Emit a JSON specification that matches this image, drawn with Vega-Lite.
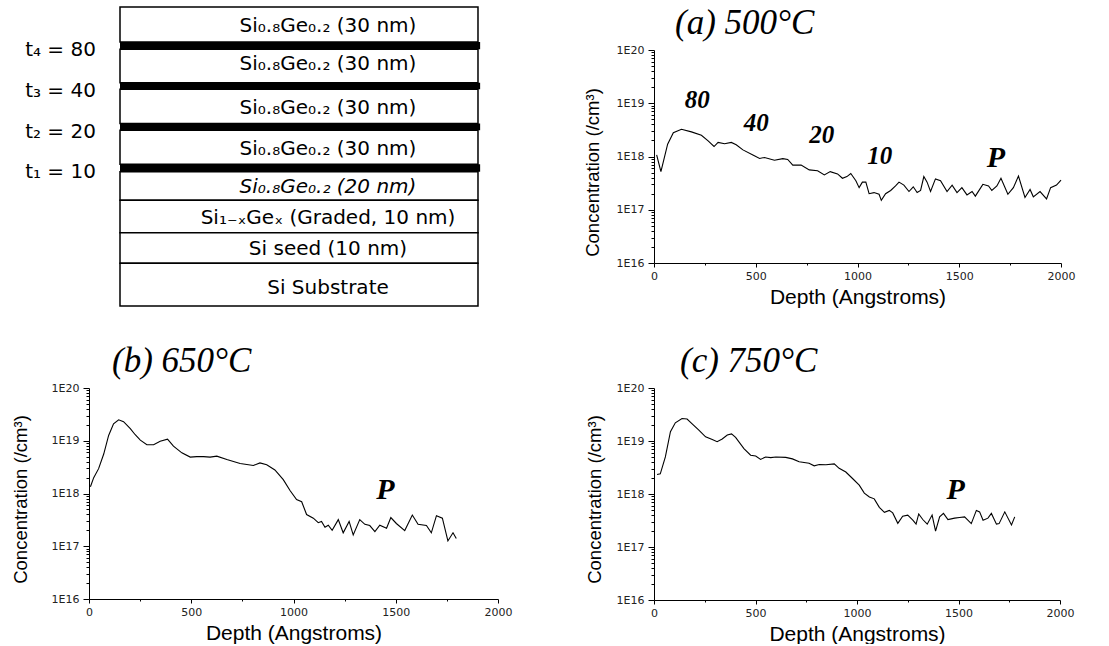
{
 "$schema": "https://vega.github.io/schema/vega-lite/v6.json",
 "background": "white",
 "padding": {"left": 11, "top": 5, "right": 5, "bottom": 0},
 "columns": 2,
 "spacing": {"row": 125, "column": 156},
 "bounds": "flush",
 "config": {
  "view": {"stroke": null},
  "axis": {"grid": false, "domainColor": "black", "domainWidth": 1, "tickColor": "black", "labelColor": "#222", "labelFont": "DejaVu Sans", "labelFontSize": 11, "titleFont": "Liberation Sans", "titleFontWeight": "normal", "titleColor": "black", "labelFlush": false, "labelOverlap": false}
 },
 "datasets": {
  "films": [
   {"name": "Si₀.₈Ge₀.₂ (30 nm)", "top": 0, "bottom": 11.7, "mid": 6.35},
   {"name": "Si₀.₈Ge₀.₂ (30 nm)", "top": 14.15, "bottom": 25.3, "mid": 19.1},
   {"name": "Si₀.₈Ge₀.₂ (30 nm)", "top": 27.5, "bottom": 39.0, "mid": 33.8},
   {"name": "Si₀.₈Ge₀.₂ (30 nm)", "top": 41.2, "bottom": 52.6, "mid": 47.5},
   {"name": "Si₀.₈Ge₀.₂ (20 nm)", "top": 55.1, "bottom": 64.65, "mid": 60.2},
   {"name": "Si₁₋ₓGeₓ (Graded, 10 nm)", "top": 64.65, "bottom": 75.5, "mid": 70.6},
   {"name": "Si seed (10 nm)", "top": 75.5, "bottom": 85.7, "mid": 80.9},
   {"name": "Si Substrate", "top": 85.7, "bottom": 100, "mid": 94.0}
  ],
  "deltas": [
   {"label": "t₄ = 80", "top": 11.7, "bottom": 14.15, "mid": 14.5},
   {"label": "t₃ = 40", "top": 25.3, "bottom": 27.5, "mid": 28.1},
   {"label": "t₂ = 20", "top": 39.0, "bottom": 41.2, "mid": 41.8},
   {"label": "t₁ = 10", "top": 52.6, "bottom": 55.1, "mid": 55.2}
  ],
  "a": [
   {"depth": 13, "conc": 1.07e18}, {"depth": 34, "conc": 5.2e17}, {"depth": 67, "conc": 1.7e18}, {"depth": 95, "conc": 2.8e18},
   {"depth": 135, "conc": 3.25e18}, {"depth": 184, "conc": 2.9e18}, {"depth": 233, "conc": 2.5e18}, {"depth": 266, "conc": 1.96e18},
   {"depth": 295, "conc": 1.54e18}, {"depth": 315, "conc": 1.84e18}, {"depth": 347, "conc": 1.74e18}, {"depth": 380, "conc": 1.84e18},
   {"depth": 404, "conc": 1.66e18}, {"depth": 437, "conc": 1.33e18}, {"depth": 486, "conc": 1.07e18}, {"depth": 519, "conc": 9.2e17},
   {"depth": 543, "conc": 9.6e17}, {"depth": 592, "conc": 8.5e17}, {"depth": 633, "conc": 9.1e17}, {"depth": 657, "conc": 8.8e17},
   {"depth": 682, "conc": 6.9e17}, {"depth": 723, "conc": 6.9e17}, {"depth": 763, "conc": 5.6e17}, {"depth": 804, "conc": 5.4e17},
   {"depth": 837, "conc": 4.5e17}, {"depth": 866, "conc": 5.2e17}, {"depth": 902, "conc": 4.7e17}, {"depth": 926, "conc": 3.9e17},
   {"depth": 948, "conc": 4.2e17}, {"depth": 967, "conc": 4.8e17}, {"depth": 992, "conc": 3.5e17}, {"depth": 1008, "conc": 2.6e17},
   {"depth": 1024, "conc": 3.3e17}, {"depth": 1041, "conc": 3.3e17}, {"depth": 1057, "conc": 2.0e17}, {"depth": 1081, "conc": 2.1e17},
   {"depth": 1106, "conc": 1.95e17}, {"depth": 1117, "conc": 1.5e17}, {"depth": 1138, "conc": 2.0e17}, {"depth": 1163, "conc": 2.3e17},
   {"depth": 1187, "conc": 2.8e17}, {"depth": 1204, "conc": 3.3e17}, {"depth": 1228, "conc": 2.9e17}, {"depth": 1253, "conc": 2.2e17},
   {"depth": 1274, "conc": 2.7e17}, {"depth": 1293, "conc": 2.1e17}, {"depth": 1310, "conc": 2.3e17}, {"depth": 1326, "conc": 4.2e17},
   {"depth": 1342, "conc": 3.3e17}, {"depth": 1359, "conc": 2.2e17}, {"depth": 1383, "conc": 3.8e17}, {"depth": 1408, "conc": 3.5e17},
   {"depth": 1440, "conc": 2.2e17}, {"depth": 1465, "conc": 2.9e17}, {"depth": 1489, "conc": 2.1e17}, {"depth": 1513, "conc": 2.6e17},
   {"depth": 1538, "conc": 1.9e17}, {"depth": 1563, "conc": 2.2e17}, {"depth": 1579, "conc": 1.8e17}, {"depth": 1616, "conc": 3.0e17},
   {"depth": 1644, "conc": 2.8e17}, {"depth": 1660, "conc": 2.3e17}, {"depth": 1685, "conc": 2.8e17}, {"depth": 1705, "conc": 3.9e17},
   {"depth": 1739, "conc": 1.95e17}, {"depth": 1766, "conc": 2.6e17}, {"depth": 1791, "conc": 4.3e17}, {"depth": 1823, "conc": 1.7e17},
   {"depth": 1848, "conc": 2.4e17}, {"depth": 1864, "conc": 1.75e17}, {"depth": 1897, "conc": 2.2e17}, {"depth": 1929, "conc": 1.6e17},
   {"depth": 1949, "conc": 2.6e17}, {"depth": 1978, "conc": 2.9e17}, {"depth": 2000, "conc": 3.6e17}
  ],
  "b": [
   {"depth": 7, "conc": 1.34e18}, {"depth": 23, "conc": 2.0e18}, {"depth": 47, "conc": 2.96e18}, {"depth": 72, "conc": 5.6e18},
   {"depth": 96, "conc": 1.26e19}, {"depth": 120, "conc": 2.1e19}, {"depth": 145, "conc": 2.5e19}, {"depth": 169, "conc": 2.3e19},
   {"depth": 202, "conc": 1.69e19}, {"depth": 226, "conc": 1.3e19}, {"depth": 251, "conc": 1.03e19}, {"depth": 283, "conc": 8.4e18},
   {"depth": 316, "conc": 8.4e18}, {"depth": 348, "conc": 9.8e18}, {"depth": 384, "conc": 1.07e19}, {"depth": 413, "conc": 7.9e18},
   {"depth": 454, "conc": 5.9e18}, {"depth": 495, "conc": 4.9e18}, {"depth": 527, "conc": 5.0e18}, {"depth": 560, "conc": 5.0e18},
   {"depth": 592, "conc": 4.9e18}, {"depth": 625, "conc": 5.1e18}, {"depth": 674, "conc": 4.4e18}, {"depth": 739, "conc": 3.7e18},
   {"depth": 804, "conc": 3.4e18}, {"depth": 836, "conc": 3.8e18}, {"depth": 869, "conc": 3.5e18}, {"depth": 909, "conc": 2.8e18},
   {"depth": 950, "conc": 1.83e18}, {"depth": 983, "conc": 1.14e18}, {"depth": 1015, "conc": 7.7e17}, {"depth": 1040, "conc": 6.97e17},
   {"depth": 1064, "conc": 4.0e17}, {"depth": 1097, "conc": 3.4e17}, {"depth": 1121, "conc": 2.8e17}, {"depth": 1137, "conc": 2.96e17},
   {"depth": 1154, "conc": 2.3e17}, {"depth": 1170, "conc": 2.5e17}, {"depth": 1189, "conc": 2.0e17}, {"depth": 1219, "conc": 3.2e17},
   {"depth": 1243, "conc": 1.8e17}, {"depth": 1272, "conc": 2.96e17}, {"depth": 1292, "conc": 1.64e17}, {"depth": 1324, "conc": 3.2e17},
   {"depth": 1349, "conc": 2.6e17}, {"depth": 1373, "conc": 2.47e17}, {"depth": 1398, "conc": 1.9e17}, {"depth": 1422, "conc": 2.5e17},
   {"depth": 1455, "conc": 2.2e17}, {"depth": 1476, "conc": 3.5e17}, {"depth": 1503, "conc": 2.7e17}, {"depth": 1544, "conc": 1.98e17},
   {"depth": 1581, "conc": 3.9e17}, {"depth": 1609, "conc": 2.6e17}, {"depth": 1650, "conc": 2.47e17}, {"depth": 1674, "conc": 1.8e17},
   {"depth": 1699, "conc": 3.8e17}, {"depth": 1728, "conc": 3.4e17}, {"depth": 1755, "conc": 1.26e17}, {"depth": 1780, "conc": 1.8e17},
   {"depth": 1796, "conc": 1.4e17}
  ],
  "c": [
   {"depth": 15, "conc": 2.34e18}, {"depth": 31, "conc": 2.4e18}, {"depth": 56, "conc": 5.0e18}, {"depth": 81, "conc": 1.5e19},
   {"depth": 105, "conc": 2.2e19}, {"depth": 138, "conc": 2.65e19}, {"depth": 163, "conc": 2.6e19}, {"depth": 188, "conc": 2.1e19},
   {"depth": 221, "conc": 1.6e19}, {"depth": 254, "conc": 1.2e19}, {"depth": 287, "conc": 1.07e19}, {"depth": 311, "conc": 9.7e18},
   {"depth": 336, "conc": 1.09e19}, {"depth": 361, "conc": 1.3e19}, {"depth": 382, "conc": 1.36e19}, {"depth": 402, "conc": 1.17e19},
   {"depth": 443, "conc": 7.2e18}, {"depth": 476, "conc": 5.4e18}, {"depth": 501, "conc": 5.2e18}, {"depth": 525, "conc": 4.5e18},
   {"depth": 550, "conc": 5.0e18}, {"depth": 575, "conc": 4.86e18}, {"depth": 600, "conc": 5.0e18}, {"depth": 649, "conc": 4.9e18},
   {"depth": 682, "conc": 4.6e18}, {"depth": 715, "conc": 4.07e18}, {"depth": 764, "conc": 3.8e18}, {"depth": 789, "conc": 3.4e18},
   {"depth": 814, "conc": 3.6e18}, {"depth": 847, "conc": 3.57e18}, {"depth": 888, "conc": 3.7e18}, {"depth": 912, "conc": 3.05e18},
   {"depth": 945, "conc": 2.6e18}, {"depth": 978, "conc": 1.96e18}, {"depth": 1011, "conc": 1.47e18}, {"depth": 1036, "conc": 1.04e18},
   {"depth": 1061, "conc": 8.8e17}, {"depth": 1085, "conc": 8.1e17}, {"depth": 1110, "conc": 5.6e17}, {"depth": 1135, "conc": 4.5e17},
   {"depth": 1159, "conc": 4.9e17}, {"depth": 1176, "conc": 4.4e17}, {"depth": 1201, "conc": 2.8e17}, {"depth": 1225, "conc": 3.8e17},
   {"depth": 1250, "conc": 4.0e17}, {"depth": 1275, "conc": 3.2e17}, {"depth": 1291, "conc": 2.7e17}, {"depth": 1304, "conc": 4.2e17},
   {"depth": 1324, "conc": 3.3e17}, {"depth": 1346, "conc": 2.7e17}, {"depth": 1370, "conc": 4.0e17}, {"depth": 1387, "conc": 2.0e17},
   {"depth": 1407, "conc": 3.7e17}, {"depth": 1426, "conc": 4.3e17}, {"depth": 1448, "conc": 3.3e17}, {"depth": 1481, "conc": 3.5e17},
   {"depth": 1505, "conc": 3.6e17}, {"depth": 1530, "conc": 3.7e17}, {"depth": 1563, "conc": 2.76e17}, {"depth": 1588, "conc": 4.9e17},
   {"depth": 1604, "conc": 4.6e17}, {"depth": 1621, "conc": 3.2e17}, {"depth": 1645, "conc": 3.5e17}, {"depth": 1662, "conc": 4.3e17},
   {"depth": 1687, "conc": 2.7e17}, {"depth": 1700, "conc": 2.76e17}, {"depth": 1728, "conc": 4.6e17}, {"depth": 1761, "conc": 2.6e17},
   {"depth": 1777, "conc": 3.7e17}
  ],
  "a_notes": [
   {"depth": 212, "conc": 1.14e19, "label": "80"},
   {"depth": 502, "conc": 4.27e18, "label": "40"},
   {"depth": 824, "conc": 2.57e18, "label": "20"},
   {"depth": 1109, "conc": 1.01e18, "label": "10"},
   {"depth": 1680, "conc": 9.55e17, "label": "P"}
  ],
  "b_notes": [{"depth": 1450, "conc": 1.16e18, "label": "P"}],
  "c_notes": [{"depth": 1486, "conc": 1.18e18, "label": "P"}]
 },
 "concat": [
  {
   "width": 409, "height": 213,
   "layer": [
    {"data": {"name": "films"}, "mark": {"type": "rect", "fill": "white", "stroke": "black", "strokeWidth": 1.5},
     "encoding": {
      "x": {"datum": 0, "type": "quantitative", "scale": {"domain": [-8.66, 105.59], "nice": false, "zero": false}, "axis": null},
      "x2": {"datum": 100},
      "y": {"field": "top", "type": "quantitative", "scale": {"domain": [14.38, 85.62], "nice": false, "zero": false, "reverse": true}, "axis": null},
      "y2": {"field": "bottom"}
     }},
    {"data": {"name": "deltas"}, "mark": {"type": "rect", "fill": "black"},
     "encoding": {
      "x": {"datum": 0, "type": "quantitative", "axis": null},
      "x2": {"datum": 100.6},
      "y": {"field": "top", "type": "quantitative", "axis": null},
      "y2": {"field": "bottom"}
     }},
    {"data": {"name": "films"}, "transform": [{"filter": "indexof(datum.name, '20 nm') < 0"}],
     "mark": {"type": "text", "font": "DejaVu Sans", "fontSize": 20, "color": "black"},
     "encoding": {
      "x": {"datum": 58.1, "type": "quantitative", "axis": null},
      "y": {"field": "mid", "type": "quantitative", "axis": null},
      "text": {"field": "name"}
     }},
    {"data": {"name": "films"}, "transform": [{"filter": "indexof(datum.name, '20 nm') >= 0"}],
     "mark": {"type": "text", "font": "DejaVu Sans", "fontSize": 20, "fontStyle": "italic", "color": "black"},
     "encoding": {
      "x": {"datum": 58.1, "type": "quantitative", "axis": null},
      "y": {"field": "mid", "type": "quantitative", "axis": null},
      "text": {"field": "name"}
     }},
    {"data": {"name": "deltas"},
     "mark": {"type": "text", "font": "DejaVu Sans", "fontSize": 20, "align": "left", "color": "black"},
     "encoding": {
      "x": {"datum": -26.5, "type": "quantitative", "axis": null},
      "y": {"field": "mid", "type": "quantitative", "axis": null},
      "text": {"field": "label"}
     }}
   ]
  },
  {
   "width": 407, "height": 213,
   "title": {"text": "(a) 500°C", "anchor": "start", "frame": "group", "dx": 21, "offset": -24.5, "baseline": "alphabetic", "font": "Liberation Serif", "fontStyle": "italic", "fontWeight": "normal", "fontSize": 35, "color": "black"},
   "encoding": {
    "x": {"field": "depth", "type": "quantitative", "scale": {"domain": [0, 2000], "nice": false, "zero": false},
     "axis": {"values": [0, 250, 500, 750, 1000, 1250, 1500, 1750, 2000], "format": "d", "labelExpr": "datum.value % 500 === 0 ? datum.label : ''", "tickSize": {"condition": {"test": "datum.value % 500 === 0", "value": 4}, "value": 2}, "labelPadding": 3, "title": "Depth (Angstroms)", "titleFontSize": 21, "titleBaseline": "alphabetic", "titleY": 40}},
    "y": {"field": "conc", "type": "quantitative", "scale": {"type": "log", "domain": [1e16, 1e20], "nice": false},
     "axis": {"values": [1e16,2e16,3e16,4e16,5e16,6e16,7e16,8e16,9e16,1e17,2e17,3e17,4e17,5e17,6e17,7e17,8e17,9e17,1e18,2e18,3e18,4e18,5e18,6e18,7e18,8e18,9e18,1e19,2e19,3e19,4e19,5e19,6e19,7e19,8e19,9e19,1e20],
      "labelExpr": "abs(log(datum.value)/LN10 - round(log(datum.value)/LN10)) < 0.01 ? '1E' + round(log(datum.value)/LN10) : ''",
      "tickSize": {"condition": {"test": "abs(log(datum.value)/LN10 - round(log(datum.value)/LN10)) < 0.01", "value": 6}, "value": 3},
      "labelPadding": 4, "title": "Concentration (/cm³)", "titleFontSize": 18.5, "titleX": -62, "titleY": 122, "titleAngle": 270, "titleBaseline": "middle", "titleAlign": "center"}}
   },
   "layer": [
    {"data": {"name": "a"}, "mark": {"type": "line", "color": "black", "strokeWidth": 1.1}},
    {"data": {"name": "a_notes"}, "mark": {"type": "text", "font": "Liberation Serif", "fontStyle": "italic", "fontWeight": "bold", "color": "black"},
     "encoding": {"text": {"field": "label"}, "size": {"condition": {"test": "datum.label === 'P'", "value": 30}, "value": 25}}}
   ]
  },
  {
   "width": 409, "height": 211,
   "title": {"text": "(b) 650°C", "anchor": "start", "frame": "group", "dx": 23, "offset": -24.5, "baseline": "alphabetic", "font": "Liberation Serif", "fontStyle": "italic", "fontWeight": "normal", "fontSize": 35, "color": "black"},
   "encoding": {
    "x": {"field": "depth", "type": "quantitative", "scale": {"domain": [0, 2000], "nice": false, "zero": false},
     "axis": {"values": [0, 250, 500, 750, 1000, 1250, 1500, 1750, 2000], "format": "d", "labelExpr": "datum.value % 500 === 0 ? datum.label : ''", "tickSize": {"condition": {"test": "datum.value % 500 === 0", "value": 4}, "value": 2}, "labelPadding": 3, "title": "Depth (Angstroms)", "titleFontSize": 21, "titleBaseline": "alphabetic", "titleY": 40}},
    "y": {"field": "conc", "type": "quantitative", "scale": {"type": "log", "domain": [1e16, 1e20], "nice": false},
     "axis": {"values": [1e16,2e16,3e16,4e16,5e16,6e16,7e16,8e16,9e16,1e17,2e17,3e17,4e17,5e17,6e17,7e17,8e17,9e17,1e18,2e18,3e18,4e18,5e18,6e18,7e18,8e18,9e18,1e19,2e19,3e19,4e19,5e19,6e19,7e19,8e19,9e19,1e20],
      "labelExpr": "abs(log(datum.value)/LN10 - round(log(datum.value)/LN10)) < 0.01 ? '1E' + round(log(datum.value)/LN10) : ''",
      "tickSize": {"condition": {"test": "abs(log(datum.value)/LN10 - round(log(datum.value)/LN10)) < 0.01", "value": 6}, "value": 3},
      "labelPadding": 4, "title": "Concentration (/cm³)", "titleFontSize": 18.5, "titleX": -69, "titleY": 111, "titleAngle": 270, "titleBaseline": "middle", "titleAlign": "center"}}
   },
   "layer": [
    {"data": {"name": "b"}, "mark": {"type": "line", "color": "black", "strokeWidth": 1.1}},
    {"data": {"name": "b_notes"}, "mark": {"type": "text", "font": "Liberation Serif", "fontStyle": "italic", "fontWeight": "bold", "color": "black"},
     "encoding": {"text": {"field": "label"}, "size": {"condition": {"test": "datum.label === 'P'", "value": 30}, "value": 25}}}
   ]
  },
  {
   "width": 406, "height": 212,
   "title": {"text": "(c) 750°C", "anchor": "start", "frame": "group", "dx": 26, "offset": -24.5, "baseline": "alphabetic", "font": "Liberation Serif", "fontStyle": "italic", "fontWeight": "normal", "fontSize": 35, "color": "black"},
   "encoding": {
    "x": {"field": "depth", "type": "quantitative", "scale": {"domain": [0, 2000], "nice": false, "zero": false},
     "axis": {"values": [0, 250, 500, 750, 1000, 1250, 1500, 1750, 2000], "format": "d", "labelExpr": "datum.value % 500 === 0 ? datum.label : ''", "tickSize": {"condition": {"test": "datum.value % 500 === 0", "value": 4}, "value": 2}, "labelPadding": 3, "title": "Depth (Angstroms)", "titleFontSize": 21, "titleBaseline": "alphabetic", "titleY": 40}},
    "y": {"field": "conc", "type": "quantitative", "scale": {"type": "log", "domain": [1e16, 1e20], "nice": false},
     "axis": {"values": [1e16,2e16,3e16,4e16,5e16,6e16,7e16,8e16,9e16,1e17,2e17,3e17,4e17,5e17,6e17,7e17,8e17,9e17,1e18,2e18,3e18,4e18,5e18,6e18,7e18,8e18,9e18,1e19,2e19,3e19,4e19,5e19,6e19,7e19,8e19,9e19,1e20],
      "labelExpr": "abs(log(datum.value)/LN10 - round(log(datum.value)/LN10)) < 0.01 ? '1E' + round(log(datum.value)/LN10) : ''",
      "tickSize": {"condition": {"test": "abs(log(datum.value)/LN10 - round(log(datum.value)/LN10)) < 0.01", "value": 6}, "value": 3},
      "labelPadding": 4, "title": "Concentration (/cm³)", "titleFontSize": 18.5, "titleX": -60, "titleY": 111, "titleAngle": 270, "titleBaseline": "middle", "titleAlign": "center"}}
   },
   "layer": [
    {"data": {"name": "c"}, "mark": {"type": "line", "color": "black", "strokeWidth": 1.1}},
    {"data": {"name": "c_notes"}, "mark": {"type": "text", "font": "Liberation Serif", "fontStyle": "italic", "fontWeight": "bold", "color": "black"},
     "encoding": {"text": {"field": "label"}, "size": {"condition": {"test": "datum.label === 'P'", "value": 30}, "value": 25}}}
   ]
  }
 ]
}
